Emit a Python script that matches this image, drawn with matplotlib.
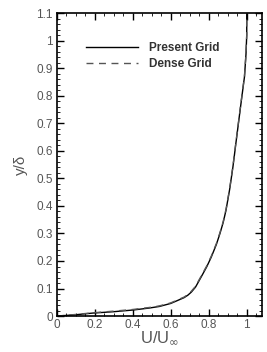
import matplotlib.pyplot as plt
from matplotlib.ticker import MultipleLocator

plt.rcParams['font.family'] = ['Liberation Sans', 'DejaVu Sans']

# boundary layer profile
present_u = [0.0, 0.1, 0.19, 0.3, 0.40, 0.484, 0.54, 0.6, 0.64, 0.67, 0.69, 0.708, 0.73, 0.76, 0.79, 0.813, 0.84, 0.859, 0.876, 0.891, 0.91, 0.927, 0.943, 0.96, 0.975, 0.988, 0.996, 1.0, 1.0]
present_y = [0.0, 0.005, 0.011, 0.016, 0.022, 0.029, 0.035, 0.046, 0.058, 0.067, 0.076, 0.087, 0.105, 0.142, 0.18, 0.214, 0.26, 0.30, 0.34, 0.385, 0.46, 0.54, 0.628, 0.72, 0.80, 0.868, 0.95, 1.02, 1.1]
dense_u = [0.0, 0.1, 0.19, 0.3, 0.40, 0.484, 0.54, 0.6, 0.64, 0.67, 0.69, 0.708, 0.73, 0.76, 0.79, 0.813, 0.84, 0.859, 0.876, 0.891, 0.91, 0.927, 0.943, 0.96, 0.975, 0.988, 0.996, 1.0, 1.0]
dense_y = [0.0, 0.006, 0.012, 0.018, 0.024, 0.031, 0.037, 0.048, 0.06, 0.069, 0.078, 0.09, 0.108, 0.145, 0.183, 0.217, 0.263, 0.303, 0.343, 0.388, 0.463, 0.543, 0.631, 0.723, 0.803, 0.871, 0.953, 1.02, 1.1]

fig = plt.figure(figsize=(2.67, 3.52), dpi=100)
ax = fig.add_axes([0.213, 0.102, 0.768, 0.861])

ax.plot(present_u, present_y, color='black', lw=1.0, label='Present Grid')
ax.plot(dense_u, dense_y, color='#555555', lw=1.0, ls=(0, (5, 4)), label='Dense Grid')

ax.set_xlim(0, 1.08)
ax.set_ylim(0, 1.1)
ax.xaxis.set_minor_locator(MultipleLocator(0.05))
ax.yaxis.set_minor_locator(MultipleLocator(0.02))
ax.set_xticks([0, 0.2, 0.4, 0.6, 0.8, 1.0])
ax.set_xticklabels(['0', '0.2', '0.4', '0.6', '0.8', '1'])
ax.set_yticks([0, 0.1, 0.2, 0.3, 0.4, 0.5, 0.6, 0.7, 0.8, 0.9, 1.0, 1.1])
ax.set_yticklabels(['0', '0.1', '0.2', '0.3', '0.4', '0.5', '0.6', '0.7', '0.8', '0.9', '1', '1.1'])
ax.tick_params(which='both', direction='in', top=True, right=True, labelsize=8.5, colors='black', labelcolor='#555555')
ax.tick_params(which='major', length=5, width=1)
ax.tick_params(which='minor', length=2.5, width=0.6)
ax.tick_params(axis='x', pad=2)
ax.tick_params(axis='y', pad=3)
for s in ax.spines.values():
    s.set_linewidth(1.2)

ax.set_xlabel(r'U/U$_{\infty}$', fontsize=12, color='#555555', labelpad=-1)
ax.set_ylabel('y/δ', fontsize=11, color='#555555', labelpad=6)

leg = ax.legend(loc='upper left', bbox_to_anchor=(0.09, 0.94), frameon=False, handlelength=4.4,
                handletextpad=0.9, fontsize=8.5, labelspacing=0.35)
for t in leg.get_texts():
    t.set_fontweight('bold')
    t.set_color('#333333')

fig.savefig('out.png', dpi=100)
